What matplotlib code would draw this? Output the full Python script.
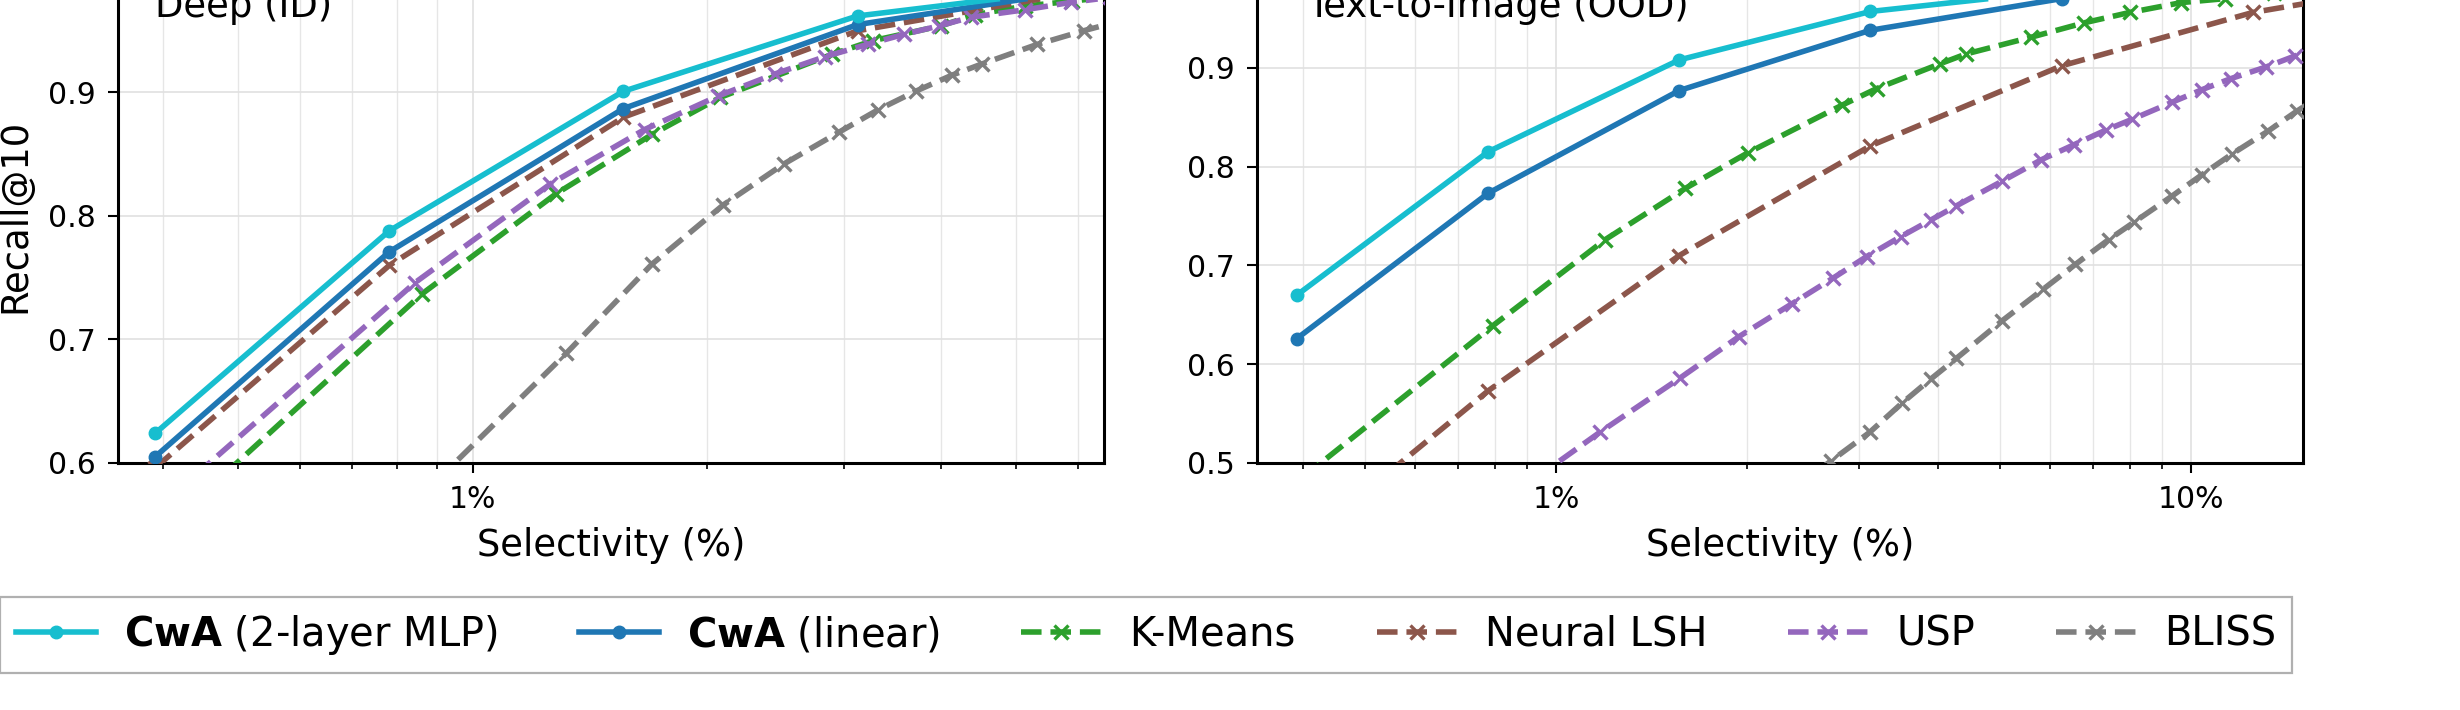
import numpy as np
import matplotlib
matplotlib.use("Agg")
import matplotlib.pyplot as plt
from matplotlib.ticker import FuncFormatter, NullFormatter, MultipleLocator

# ---- data ----
cwa_sel = [0.390625, 0.78125, 1.5625, 3.125, 6.25, 12.5]

# Deep (ID)
deep_mlp = [0.624, 0.788, 0.901, 0.962, 0.985, 0.993]
deep_lin = [0.605, 0.771, 0.887, 0.955, 0.984, 0.992]
deep_nlsh_x = [0.390625, 0.78125, 1.5625, 3.125, 6.25, 12.5]
deep_nlsh_y = [0.596, 0.760, 0.880, 0.950, 0.983, 0.992]
deep_km_x = [0.45, 0.861, 1.28, 1.70, 2.08, 2.90, 3.27, 4.0, 4.42, 5.13, 5.9, 6.7]
deep_km_y = [0.575, 0.737, 0.818, 0.866, 0.896, 0.931, 0.942, 0.954, 0.963, 0.970, 0.974, 0.978]
deep_usp_x = [0.44, 0.843, 1.259, 1.663, 2.065, 2.446, 2.836, 3.22, 3.58, 3.98, 4.375, 5.13, 5.88, 6.6]
deep_usp_y = [0.590, 0.746, 0.826, 0.870, 0.897, 0.915, 0.929, 0.939, 0.947, 0.954, 0.961, 0.967, 0.973, 0.977]
deep_bliss_x = [0.9, 1.32, 1.70, 2.10, 2.51, 2.96, 3.32, 3.71, 4.13, 4.51, 5.32, 6.10, 6.9]
deep_bliss_y = [0.586, 0.689, 0.761, 0.809, 0.842, 0.868, 0.886, 0.901, 0.914, 0.923, 0.939, 0.950, 0.959]

# Text-to-Image (OOD)
t2i_mlp = [0.670, 0.815, 0.908, 0.957, 0.978, 0.992]
t2i_lin = [0.626, 0.773, 0.877, 0.938, 0.970, 0.986]
t2i_nlsh_x = [0.390625, 0.78125, 1.5625, 3.125, 6.25, 12.5, 25]
t2i_nlsh_y = [0.414, 0.573, 0.710, 0.821, 0.902, 0.956, 0.989]
t2i_km_x = [0.40, 0.795, 1.194, 1.598, 2.004, 2.816, 3.197, 4.02, 4.42, 5.6, 6.78, 8.0, 9.65, 11.3, 13.5]
t2i_km_y = [0.486, 0.639, 0.726, 0.778, 0.814, 0.862, 0.879, 0.904, 0.914, 0.931, 0.9455, 0.956, 0.966, 0.970, 0.976]
t2i_usp_x = [0.78, 1.171, 1.567, 1.941, 2.349, 2.727, 3.083, 3.486, 3.892, 4.26, 5.03, 5.81,
             6.53, 7.34, 8.08, 9.32, 10.41, 11.54, 13.14, 14.57, 16.2]
t2i_usp_y = [0.450, 0.531, 0.586, 0.628, 0.661, 0.687, 0.709, 0.729, 0.746, 0.760, 0.785, 0.807,
             0.822, 0.837, 0.848, 0.865, 0.878, 0.889, 0.901, 0.912, 0.924]
t2i_bliss_x = [2.35, 2.708, 3.116, 3.51, 3.89, 4.27, 5.04, 5.85, 6.57, 7.41, 8.14, 9.32, 10.41,
               11.61, 13.22, 14.66, 16.2]
t2i_bliss_y = [0.472, 0.502, 0.531, 0.561, 0.585, 0.606, 0.644, 0.676, 0.701, 0.726, 0.744, 0.770,
               0.792, 0.813, 0.836, 0.856, 0.874]

labels = [r"$\bf{CwA}$ (2-layer MLP)", r"$\bf{CwA}$ (linear)", "K-Means", "Neural LSH", "USP", "BLISS"]
colors = ["#17becf", "#1f77b4", "#2ca02c", "#8c564b", "#9467bd", "#7f7f7f"]

panels = [
    dict(name="Deep (ID)", xlim=(0.35, 6.48), ylim=(0.6, 1.0), txt_x=0.038,
         mlp=deep_mlp, lin=deep_lin,
         base=[(deep_km_x, deep_km_y), (deep_nlsh_x, deep_nlsh_y),
               (deep_usp_x, deep_usp_y), (deep_bliss_x, deep_bliss_y)]),
    dict(name="Text-to-Image (OOD)", xlim=(0.338, 15.0), ylim=(0.5, 1.0), txt_x=0.0475,
         mlp=t2i_mlp, lin=t2i_lin,
         base=[(t2i_km_x, t2i_km_y), (t2i_nlsh_x, t2i_nlsh_y),
               (t2i_usp_x, t2i_usp_y), (t2i_bliss_x, t2i_bliss_y)]),
]

W, H = 2460, 710
fig = plt.figure(figsize=(W / 100, H / 100), dpi=100)
# axes rectangles in pixels: left, right, top, bottom (top lies above the canvas)
rects = [(118, 1104, -31, 463), (1257, 2303, -31, 463)]

lw = 4.0
handles = None
for i, (p, r) in enumerate(zip(panels, rects)):
    l, rr, t, b = r
    ax = fig.add_axes([l / W, (H - b) / H, (rr - l) / W, (b - t) / H])
    ax.set_xscale("log")

    hs = []
    h1, = ax.plot(cwa_sel, p["mlp"], "-o", color=colors[0], lw=lw, ms=9, zorder=5)
    h2, = ax.plot(cwa_sel, p["lin"], "-o", color=colors[1], lw=lw, ms=9, zorder=4)
    hs += [h1, h2]
    for (bx, by), c in zip(p["base"], colors[2:]):
        h, = ax.plot(bx, by, "--x", color=c, lw=lw, ms=9.5, mew=2.4, zorder=3)
        hs.append(h)
    if handles is None:
        handles = hs

    ax.set_xlim(*p["xlim"])
    ax.set_ylim(*p["ylim"])
    ax.yaxis.set_major_locator(MultipleLocator(0.1))
    ax.xaxis.set_major_formatter(FuncFormatter(lambda v, pos: f"{v:g}%"))
    ax.xaxis.set_minor_formatter(NullFormatter())

    ax.grid(True, which="major", color="#e0e0e0", lw=1.2)
    ax.grid(True, which="minor", axis="x", color="#e6e6e6", lw=1.0)
    ax.set_axisbelow(True)
    for s in ax.spines.values():
        s.set_linewidth(2.2)

    ax.tick_params(which="major", length=7, width=1.5, pad=9, labelsize=21.5)
    ax.tick_params(which="minor", length=4.3, width=1.2)

    ax.set_xlabel("Selectivity (%)", fontsize=26.6, labelpad=9.5)
    if i == 0:
        ax.set_ylabel("Recall@10", fontsize=26.6)
        ax.yaxis.set_label_coords(-0.086, 0.5)

    ax.text(p["txt_x"], 0.903, p["name"], transform=ax.transAxes,
            fontsize=26.6, va="baseline", ha="left")

leg = fig.legend(handles, labels, loc="center left", bbox_to_anchor=(0.0, (H - 635) / H),
                 ncol=6, fontsize=28.8, handlelength=2.0, handletextpad=0.7,
                 columnspacing=2.03, borderaxespad=0, fancybox=False, framealpha=1)
leg.get_frame().set_edgecolor("#b0b0b0")
leg.get_frame().set_linewidth(1.6)

fig.savefig("out.png", dpi=100)
